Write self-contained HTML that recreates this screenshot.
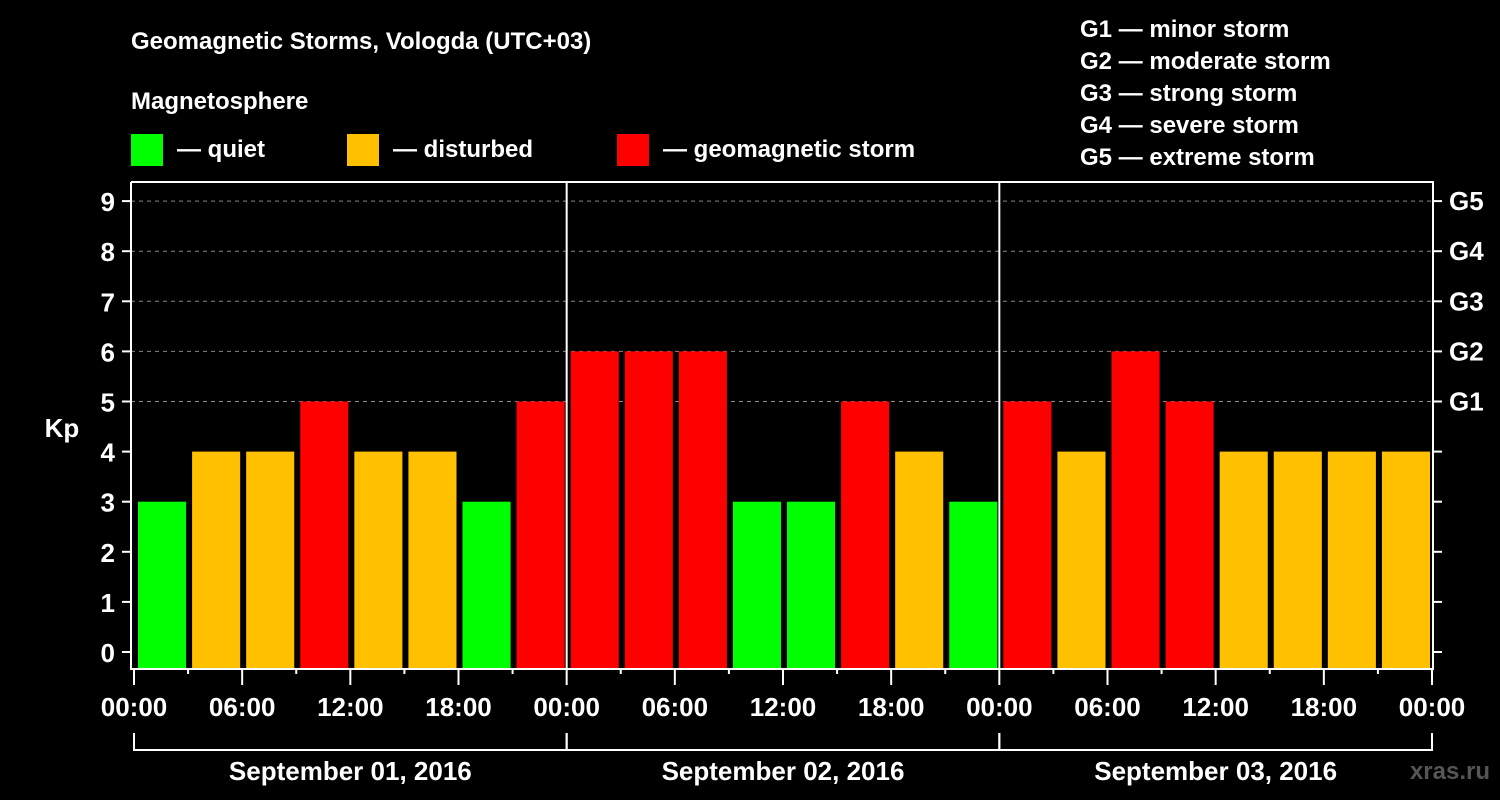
<!DOCTYPE html>
<html><head><meta charset="utf-8"><style>
body{margin:0;background:#000;width:1500px;height:800px;overflow:hidden}
svg{display:block;font-family:"Liberation Sans",sans-serif;font-weight:bold}
</style></head><body>
<svg id="c" width="1500" height="800">
<text x="131" y="49" fill="#fff" font-size="24">Geomagnetic Storms, Vologda (UTC+03)</text>
<text x="131" y="109" fill="#fff" font-size="24">Magnetosphere</text>
<g><rect x="131" y="134" width="32" height="32" fill="#00ff00"/><text x="177" y="157" fill="#fff" font-size="24">— quiet</text></g>
<g><rect x="347" y="134" width="32" height="32" fill="#ffc000"/><text x="393" y="157" fill="#fff" font-size="24">— disturbed</text></g>
<g><rect x="617" y="134" width="32" height="32" fill="#ff0000"/><text x="663" y="157" fill="#fff" font-size="24">— geomagnetic storm</text></g>
<g fill="#fff" font-size="24">
<text x="1080" y="37">G1 — minor storm</text>
<text x="1080" y="69">G2 — moderate storm</text>
<text x="1080" y="101">G3 — strong storm</text>
<text x="1080" y="133">G4 — severe storm</text>
<text x="1080" y="165">G5 — extreme storm</text>
</g>
<text x="62" y="437" fill="#fff" font-size="26" text-anchor="middle">Kp</text>
<text x="1490" y="779" fill="#555" font-size="24" text-anchor="end">xras.ru</text>
<g id="grid"></g><g id="bars"></g><g id="axes"></g>
</svg>
<script>
const kpValues=[3,4,4,5,4,4,3,5, 6,6,6,3,3,5,4,3, 5,4,6,5,4,4,4,4];
const dayLabels=["September 01, 2016","September 02, 2016","September 03, 2016"];
const hourLabels=["00:00","06:00","12:00","18:00"];
const gLabels=["G1","G2","G3","G4","G5"];
const yTicks=[0,1,2,3,4,5,6,7,8,9];
const NS="http://www.w3.org/2000/svg";
const X0=134,X1=1432,plotTop=182,plotBot=668,L=131,R=1433;
const slot=(X1-X0)/kpValues.length;
const y=v=>652-v*50.1;
const x=i=>X0+i*slot;
function mk(p,tag,a,t){const e=document.createElementNS(NS,tag);for(const k in a)e.setAttribute(k,a[k]);if(t!==undefined)e.textContent=t;p.appendChild(e);return e;}
const grid=document.getElementById('grid'),bars=document.getElementById('bars'),axes=document.getElementById('axes');
gLabels.forEach((g,i)=>{const v=5+i;
 const l=mk(grid,'line',{x1:L,x2:R,y1:y(v),y2:y(v),stroke:'#888','stroke-dasharray':'4,4'});
 
 
 const t=mk(axes,'text',{x:1449,y:y(v)+9,fill:'#fff','font-size':26},g);
 
 
});
kpValues.forEach((v,i)=>{
 const c=v>=5?'#ff0000':v==4?'#ffc000':'#00ff00';
 const r=mk(bars,'rect',{x:x(i)+4,y:y(v),width:slot-6,height:plotBot-y(v),fill:c});
 
 
});
// day separators
for(let d=1;d<dayLabels.length;d++){const l=mk(axes,'line',{x1:x(d*8),x2:x(d*8),y1:plotTop,y2:plotBot,stroke:'#fff','stroke-width':2});
 
 }
const frame=mk(axes,'path',{d:`M${L} ${plotTop}V${plotBot+1}H${R}V${plotTop}H${L}`,stroke:'#fff','stroke-width':2,fill:'none'});


yTicks.forEach(v=>{
 mk(axes,'line',{x1:L-9,x2:L,y1:y(v),y2:y(v),stroke:'#fff','stroke-width':2});
 mk(axes,'line',{x1:R,x2:R+9,y1:y(v),y2:y(v),stroke:'#fff','stroke-width':2});
 const t=mk(axes,'text',{x:115,y:y(v)+10,fill:'#fff','font-size':26,'text-anchor':'end'},v);
 
 
});
for(let i=0;i<=kpValues.length;i++){
 const major=i%2==0;
 mk(axes,'line',{x1:x(i),x2:x(i),y1:plotBot+1,y2:plotBot+(major?17:6),stroke:'#fff','stroke-width':2});
 if(major){const lbl=i==kpValues.length?hourLabels[0]:hourLabels[(i/2)%4];
  const t=mk(axes,'text',{x:x(i),y:716,fill:'#fff','font-size':26,'text-anchor':'middle'},lbl);
  
  }
}
dayLabels.forEach((d,i)=>{
 const a=x(i*8),b=x(i*8+8);
 mk(axes,'path',{d:`M${a} 733V750H${b}V733`,stroke:'#fff','stroke-width':2,fill:'none'});
 const t=mk(axes,'text',{x:(a+b)/2,y:780,fill:'#fff','font-size':26,'text-anchor':'middle'},d);
 
 
});
</script>
</body></html>
